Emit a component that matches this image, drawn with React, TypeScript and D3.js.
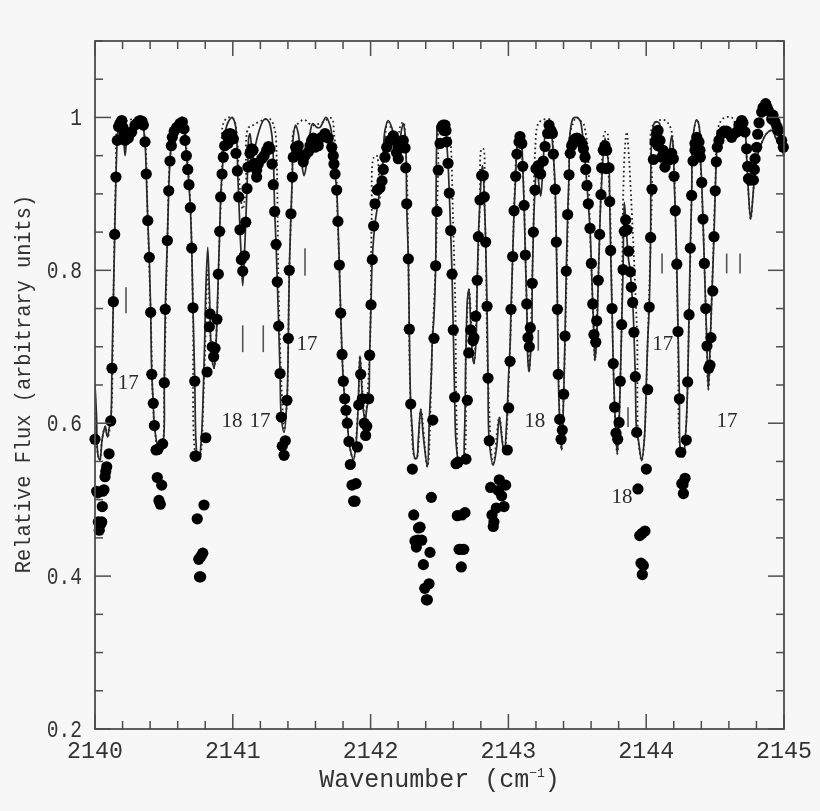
import React from "react";
import * as d3 from "d3";

const BASE = 2140;
const xLabels = [2140, 2141, 2142, 2143, 2144, 2145];
const yLabels = [0.2, 0.4, 0.6, 0.8, 1];

// Observed spectrum: [wavenumber - 2140, relative flux]
const observed: [number, number][] = [
[0,.579],[.012,.511],[.024,.471],[.031,.460],[.020,.509],[.049,.471],[.042,.468],[.053,.491],[.065,.513],[.056,.511],[.073,.530],[.078,.537],[.085,.543],[.102,.560],[.114,.603],[.123,.672],
[.133,.759],[.143,.847],[.152,.922],[.162,.970],[.181,.992],[.171,.988],[.194,.996],[.203,.987],[.230,.979],[.218,.970],[.211,.979],[.242,.973],[.254,.979],[.266,.981],[.290,.990],[.309,.993],[.327,.996],[.341,.995],[.351,.990],[.363,.968],[.372,.926],[.383,.865],[.394,.817],[.404,.745],[.412,.664],[.423,.626],[.431,.597],[.443,.565],[.457,.566],[.452,.529],[.464,.499],[.474,.494],[.484,.519],[.491,.573],[.503,.653],[.510,.749],[.525,.839],[.535,.904],[.544,.943],[.554,.963],[.561,.974],[.575,.982],[.593,.987],[.617,.992],[.634,.994],[.646,.985],[.653,.970],[.663,.950],[.673,.932],[.682,.912],[.692,.882],[.702,.829],[.711,.751],[.724,.655],[.733,.557],[.726,.557],[.742,.475],[.753,.422],[.758,.399],[.767,.399],[.782,.430],[.769,.426],[.791,.493],[.804,.581],[.813,.667],
[.830,.726],[.835,.743],[.851,.700],[.871,.698],[.861,.687],[.885,.736],[.895,.795],[.905,.851],[.912,.896],[.922,.926],[.931,.948],[.941,.963],[.956,.976],[.965,.978],[.980,.979],[.991,.978],[1.004,.972],[.965,.966],[1.023,.953],[1.033,.930],[1.043,.896],[1.052,.853],[1.062,.814],[1.072,.799],[1.084,.819],[1.094,.863],[1.103,.907],[1.110,.935],[1.125,.953],[1.137,.959],[1.147,.957],[1.154,.940],[1.173,.922],[1.173,.931],[1.185,.939],[1.210,.946],[1.227,.950],[1.246,.957],[1.259,.962],[1.270,.959],[1.285,.939],[1.294,.912],[1.304,.877],[1.314,.834],[1.323,.785],[1.333,.727],[1.343,.665],[1.352,.608],[1.359,.570],[1.372,.558],[1.381,.577],[1.393,.630],[1.403,.711],[1.410,.800],[1.422,.874],[1.432,.922],[1.439,.948],[1.456,.961],[1.475,.963],[1.465,.957],[1.500,.950],[1.511,.942],[1.524,.950],[1.548,.955],[1.560,.963],[1.572,.970],[1.584,.973],[1.596,.961],[1.620,.963],[1.645,.974],[1.669,.979],[1.693,.973],[1.718,.961],[1.729,.950],[1.734,.939],[1.742,.926],[1.754,.905],[1.763,.864],[1.773,.807],[1.783,.744],[1.793,.690],[1.802,.655],[1.812,.632],[1.821,.617],[1.831,.600],[1.843,.576],[1.853,.546],[1.865,.519],[1.894,.521],[1.877,.498],[1.887,.498],[1.904,.569],[1.914,.624],[1.928,.664],[1.940,.632],[1.954,.600],[1.972,.596],[1.964,.584],[1.986,.632],[1.993,.689],
[2.003,.755],[2.012,.814],[2.022,.858],[2.032,.887],[2.049,.905],[2.068,.908],[2.083,.917],[2.092,.932],[2.104,.948],[2.117,.961],[2.141,.970],[2.165,.976],[2.177,.970],[2.188,.954],[2.199,.962],[2.201,.946],[2.213,.961],[2.237,.970],[2.250,.960],[2.255,.934],[2.262,.887],[2.274,.815],[2.281,.723],[2.291,.625],[2.303,.540],[2.313,.480],[2.348,.463],[2.359,.464],[2.322,.446],[2.344,.447],[2.371,.447],[2.332,.438],[2.383,.415],[2.393,.384],[2.424,.390],[2.405,.369],[2.412,.369],[2.431,.431],[2.441,.503],[2.451,.604],[2.460,.711],[2.472,.806],[2.482,.877],[2.491,.931],[2.504,.966],[2.516,.987],[2.526,.990],[2.540,.990],[2.533,.983],[2.547,.983],[2.552,.968],[2.562,.940],[2.571,.901],[2.581,.852],[2.591,.795],[2.600,.722],[2.610,.634],[2.620,.547],[2.634,.549],[2.629,.479],[2.642,.435],[2.658,.412],[2.656,.435],[2.676,.435],[2.663,.480],[2.685,.483],[2.692,.553],[2.702,.630],[2.712,.692],[2.726,.722],[2.750,.712],[2.743,.708],[2.763,.740],[2.774,.787],[2.782,.844],[2.794,.892],[2.806,.924],[2.818,.924],[2.825,.896],[2.835,.837],[2.845,.753],[2.852,.659],[2.861,.577],[2.871,.516],[2.881,.480],[2.890,.465],[2.895,.471],[2.912,.489],[2.927,.512],[2.934,.526],[2.951,.505],[2.968,.491],[2.980,.519],[2.992,.565],
[3.002,.620],[3.012,.681],[3.019,.749],[3.031,.818],[3.041,.878],[3.053,.923],[3.062,.952],[3.077,.968],[3.084,.975],[3.097,.966],[3.104,.936],[3.114,.885],[3.123,.820],[3.133,.756],[3.142,.712],[3.152,.700],[3.159,.725],[3.173,.783],[3.181,.850],[3.193,.905],[3.200,.933],[3.217,.937],[3.222,.928],[3.234,.926],[3.253,.943],[3.266,.962],[3.285,.979],[3.295,.990],[3.309,.983],[3.319,.979],[3.326,.952],[3.340,.906],[3.348,.837],[3.356,.749],[3.362,.664],[3.372,.605],[3.382,.579],[3.391,.591],[3.401,.638],[3.411,.714],[3.420,.799],[3.430,.873],[3.440,.925],[3.449,.953],[3.459,.963],[3.469,.967],[3.483,.972],[3.498,.973],[3.520,.970],[3.534,.966],[3.544,.959],[3.556,.948],[3.561,.932],[3.570,.911],[3.580,.887],[3.592,.855],[3.602,.809],[3.612,.756],[3.621,.716],[3.634,.706],[3.641,.734],[3.652,.787],[3.662,.847],[3.672,.899],[3.677,.934],[3.689,.957],[3.701,.963],[3.713,.957],[3.708,.933],[3.730,.934],[3.735,.890],[3.742,.826],[3.752,.750],[3.761,.678],[3.771,.621],[3.781,.587],[3.793,.579],[3.803,.601],[3.812,.655],[3.822,.729],[3.832,.801],[3.841,.851],[3.851,.866],[3.861,.853],[3.873,.825],[3.885,.798],[3.892,.778],[3.902,.758],[3.911,.719],[3.921,.661],[3.931,.588],[3.940,.514],[3.953,.453],[3.971,.456],[3.991,.459],[3.962,.417],[3.979,.414],[3.972,.402],
[4.001,.540],[4.011,.644],[4.022,.752],[4.032,.843],[4.042,.906],[4.052,.945],[4.064,.968],[4.076,.979],[4.086,.983],[4.086,.963],[4.100,.970],[4.113,.948],[4.122,.957],[4.136,.935],[4.151,.944],[4.161,.944],[4.173,.946],[4.185,.953],[4.197,.946],[4.202,.923],[4.211,.878],[4.222,.808],[4.231,.720],[4.241,.632],[4.251,.562],[4.258,.521],[4.270,.508],[4.267,.520],[4.282,.528],[4.291,.578],[4.301,.654],[4.311,.742],[4.320,.829],[4.330,.898],[4.340,.943],[4.354,.966],[4.354,.957],[4.367,.974],[4.376,.966],[4.383,.968],[4.390,.957],[4.393,.948],[4.403,.915],[4.412,.867],[4.422,.809],[4.432,.750],[4.441,.701],[4.454,.672],[4.463,.676],[4.470,.712],[4.483,.773],[4.492,.844],[4.501,.904],[4.509,.942],[4.516,.961],[4.528,.970],[4.548,.979],[4.565,.982],[4.584,.982],[4.601,.979],[4.620,.974],[4.633,.978],[4.657,.981],[4.673,.990],[4.693,.996],[4.702,.993],[4.717,.981],[4.729,.959],[4.736,.936],[4.742,.920],[4.753,.918],[4.778,.918],[4.785,.932],[4.790,.946],[4.802,.961],[4.809,.978],[4.819,.993],[4.838,1.007],[4.848,1.013],[4.867,1.018],[4.877,1.013],[4.886,1.009],[4.911,.998],[4.920,1.003],[4.935,.994],[4.949,.988],[4.959,.983],[4.983,.970],[4.995,.961],
];

// Solid model curve
const modelSolid: [number, number][] = [
[0,.650],[.011,.610],[.022,.558],[.036,.552],[.051,.578],[.065,.591],[.075,.596],[.083,.587],[.092,.582],[.102,.593],[.114,.603],[.123,.672],[.133,.759],[.143,.847],[.152,.922],[.162,.970],[.174,.990],[.189,.995],[.203,.985],[.218,.950],[.232,.975],[.247,.985],[.261,.985],[.290,.990],[.312,.998],[.327,1],[.341,.998],[.352,.985],[.363,.968],[.372,.926],[.383,.865],[.394,.817],[.404,.745],[.412,.664],[.423,.626],[.431,.597],[.464,.566],[.491,.573],[.503,.653],[.510,.749],[.525,.839],[.535,.904],[.544,.943],[.554,.963],[.575,.982],[.600,.990],[.620,.996],[.634,1],[.650,.985],[.663,.950],[.673,.932],[.682,.912],[.692,.882],[.702,.829],[.711,.751],[.724,.655],[.733,.575],[.745,.555],[.755,.555],[.771,.578],[.793,.687],[.804,.774],[.818,.830],[.830,.774],[.847,.687],[.864,.672],[.876,.695],[.885,.736],[.895,.795],[.905,.851],[.912,.896],[.922,.926],[.931,.948],[.943,.979],[.967,.994],[.996,1],[1.016,.992],[1.028,.974],[1.036,.925],[1.043,.896],[1.052,.853],[1.062,.814],[1.072,.780],[1.084,.819],[1.094,.863],[1.103,.907],[1.110,.945],[1.116,.974],[1.125,.979],[1.144,.950],[1.161,.961],[1.185,.979],[1.221,.996],[1.241,.998],[1.263,.994],[1.282,.979],[1.294,.948],[1.304,.877],[1.314,.834],[1.323,.785],[1.333,.727],[1.343,.665],[1.352,.608],[1.372,.588],[1.393,.630],[1.403,.711],[1.410,.800],[1.422,.874],[1.432,.925],[1.439,.975],[1.456,.990],[1.475,.979],[1.500,.940],[1.517,.924],[1.536,.940],[1.560,.979],[1.580,.992],[1.609,.987],[1.633,.987],[1.676,1],[1.705,.990],[1.722,.970],[1.734,.939],[1.754,.905],[1.763,.864],[1.773,.807],[1.783,.744],[1.793,.690],[1.802,.655],[1.812,.632],[1.821,.617],[1.831,.600],[1.843,.576],[1.853,.565],[1.875,.552],[1.893,.570],[1.910,.624],[1.923,.688],[1.943,.626],[1.959,.604],[1.974,.621],[1.986,.632],[1.993,.689],[2.003,.755],[2.012,.814],[2.032,.861],[2.056,.891],[2.087,.935],[2.104,.983],[2.128,.996],[2.153,.987],[2.177,.966],[2.201,.944],[2.220,.979],[2.237,.992],[2.250,.979],[2.257,.953],[2.262,.887],[2.274,.815],[2.281,.723],[2.291,.625],[2.303,.590],[2.322,.554],[2.334,.554],[2.346,.578],[2.364,.618],[2.383,.582],[2.412,.543],[2.426,.604],[2.441,.665],[2.448,.708],[2.460,.740],[2.472,.806],[2.480,.966],[2.491,.992],[2.516,.994],[2.540,.992],[2.552,.968],[2.562,.940],[2.571,.901],[2.581,.852],[2.591,.795],[2.600,.722],[2.610,.634],[2.620,.575],[2.643,.549],[2.668,.548],[2.680,.578],[2.692,.695],[2.704,.765],[2.714,.775],[2.726,.731],[2.740,.687],[2.750,.678],[2.765,.708],[2.774,.787],[2.782,.844],[2.794,.892],[2.806,.930],[2.813,.937],[2.825,.896],[2.835,.837],[2.845,.753],[2.852,.659],[2.861,.577],[2.890,.545],[2.915,.569],[2.934,.608],[2.954,.578],[2.970,.560],[2.987,.600],[3.002,.665],[3.012,.700],[3.019,.749],[3.031,.818],[3.041,.878],[3.053,.923],[3.062,.960],[3.084,.981],[3.097,.966],[3.104,.936],[3.114,.885],[3.123,.820],[3.133,.756],[3.142,.680],[3.150,.667],[3.161,.691],[3.169,.708],[3.173,.783],[3.181,.850],[3.193,.905],[3.205,.935],[3.234,.897],[3.248,.927],[3.266,.979],[3.278,.992],[3.302,.996],[3.314,.979],[3.326,.952],[3.340,.906],[3.348,.837],[3.356,.749],[3.362,.664],[3.372,.605],[3.386,.565],[3.401,.638],[3.411,.714],[3.420,.799],[3.430,.873],[3.440,.925],[3.447,.979],[3.471,.999],[3.495,1],[3.520,.996],[3.537,.979],[3.551,.957],[3.561,.932],[3.570,.911],[3.580,.887],[3.592,.855],[3.602,.809],[3.612,.756],[3.621,.716],[3.628,.682],[3.640,.708],[3.652,.787],[3.662,.847],[3.672,.899],[3.701,.973],[3.713,.957],[3.730,.934],[3.735,.890],[3.742,.826],[3.752,.750],[3.761,.678],[3.771,.621],[3.781,.587],[3.790,.560],[3.803,.601],[3.812,.655],[3.822,.729],[3.832,.801],[3.841,.889],[3.853,.861],[3.870,.817],[3.885,.798],[3.892,.778],[3.902,.758],[3.911,.719],[3.921,.661],[3.931,.588],[3.943,.578],[3.967,.551],[3.986,.578],[4.003,.665],[4.011,.708],[4.022,.752],[4.032,.843],[4.042,.975],[4.064,.994],[4.093,.993],[4.113,.970],[4.136,.944],[4.161,.950],[4.185,.976],[4.197,.959],[4.202,.923],[4.211,.878],[4.222,.808],[4.231,.720],[4.241,.632],[4.251,.562],[4.270,.556],[4.282,.578],[4.291,.600],[4.301,.654],[4.311,.742],[4.320,.829],[4.330,.898],[4.340,.975],[4.367,.997],[4.383,.990],[4.393,.948],[4.403,.915],[4.412,.867],[4.422,.809],[4.432,.750],[4.441,.701],[4.451,.644],[4.465,.708],[4.477,.770],[4.492,.844],[4.501,.904],[4.509,.942],[4.520,.970],[4.557,.983],[4.608,.979],[4.657,.990],[4.693,.999],[4.717,.983],[4.729,.948],[4.741,.905],[4.758,.867],[4.778,.905],[4.795,.940],[4.826,.961],[4.874,.979],[4.911,.983],[4.948,.970],[4.983,.959],[5,.950],
];

// Dotted model curve
const modelDotted: [number, number][] = [
[0,.650],[.022,.558],[.036,.552],[.051,.578],[.075,.596],[.092,.582],[.114,.603],[.133,.759],[.152,.922],[.174,.990],[.242,.996],[.327,1],[.360,.975],[.383,.865],[.404,.745],[.431,.597],[.464,.560],[.491,.573],[.503,.653],[.525,.839],[.544,.945],[.575,.982],[.634,1],[.663,.960],[.692,.885],[.711,.751],[.733,.557],[.755,.552],[.793,.665],[.818,.800],[.847,.687],[.864,.672],[.885,.736],[.905,.851],[.922,.930],[.931,.992],[.967,1],[1.004,.998],[1.028,.981],[1.040,.940],[1.052,.905],[1.072,.880],[1.094,.905],[1.112,.986],[1.149,.990],[1.210,.996],[1.270,.998],[1.306,.983],[1.318,.948],[1.326,.861],[1.330,.796],[1.343,.700],[1.355,.643],[1.372,.591],[1.393,.630],[1.410,.800],[1.432,.922],[1.439,.981],[1.463,.990],[1.517,.997],[1.572,.990],[1.633,.992],[1.717,.999],[1.734,.979],[1.749,.953],[1.758,.882],[1.773,.807],[1.793,.690],[1.821,.617],[1.853,.565],[1.875,.552],[1.910,.624],[1.923,.688],[1.959,.604],[1.993,.689],[2.001,.757],[2.008,.869],[2.024,.948],[2.044,.950],[2.068,.895],[2.090,.948],[2.128,.996],[2.192,.948],[2.213,.987],[2.237,.994],[2.257,.953],[2.274,.815],[2.291,.625],[2.322,.554],[2.334,.554],[2.364,.618],[2.412,.543],[2.448,.708],[2.472,.806],[2.482,.877],[2.491,.935],[2.504,.992],[2.540,.993],[2.564,.987],[2.583,.961],[2.593,.905],[2.600,.852],[2.607,.809],[2.615,.752],[2.625,.600],[2.643,.549],[2.668,.548],[2.692,.695],[2.714,.775],[2.750,.678],[2.774,.787],[2.794,.892],[2.806,.959],[2.818,.959],[2.825,.896],[2.835,.837],[2.852,.659],[2.890,.545],[2.934,.608],[2.970,.560],[3.012,.700],[3.041,.878],[3.062,.960],[3.084,.981],[3.104,.936],[3.133,.756],[3.150,.667],[3.181,.850],[3.193,.953],[3.217,.992],[3.253,.997],[3.302,.997],[3.326,.952],[3.348,.837],[3.372,.605],[3.386,.565],[3.401,.638],[3.440,.925],[3.447,.979],[3.495,1],[3.520,.996],[3.544,.992],[3.561,.979],[3.575,.961],[3.592,.855],[3.612,.756],[3.628,.682],[3.652,.787],[3.672,.899],[3.701,.981],[3.715,.981],[3.725,.935],[3.738,.882],[3.752,.750],[3.771,.621],[3.790,.560],[3.812,.655],[3.822,.729],[3.834,.905],[3.846,.961],[3.858,.981],[3.875,.948],[3.889,.900],[3.902,.852],[3.913,.809],[3.926,.752],[3.935,.708],[3.943,.578],[3.967,.551],[3.986,.578],[4.011,.708],[4.042,.906],[4.050,.990],[4.124,.997],[4.161,.992],[4.185,.981],[4.197,.959],[4.211,.878],[4.231,.720],[4.251,.562],[4.270,.556],[4.291,.600],[4.311,.742],[4.330,.898],[4.340,.975],[4.367,.997],[4.383,.990],[4.393,.948],[4.412,.867],[4.432,.750],[4.451,.644],[4.477,.770],[4.501,.904],[4.523,.987],[4.560,.999],[4.620,1],[4.657,.990],[4.693,.999],[4.717,.983],[4.729,.948],[4.741,.905],[4.758,.867],[4.778,.905],[4.795,.940],[4.826,.961],[4.874,.979],[4.911,.983],[4.948,.970],[4.983,.959],[5,.950],
];

// Line identification bars: [wavenumber - 2140, low, high]
const idBars: [number, number, number][] = [
[.225,.744,.778],[1.072,.693,.728],[1.221,.693,.728],[1.524,.793,.829],[3.217,.695,.722],[3.868,.595,.621],[4.115,.796,.822],[4.584,.796,.822],[4.681,.796,.822],
];

// Isotope labels: [text, wavenumber - 2140, flux]
const isoLabels: [string, number, number][] = [
["17",.241,.655],["18",.994,.605],["17",1.197,.605],["17",1.538,.705],["18",3.192,.605],["18",3.824,.505],["17",4.121,.705],["17",4.587,.605],
];

const W = 820, H = 811;
const INK = "#4d4d4d";
const TEXT = "#333";
const MONO = "'Liberation Mono', monospace";
const x = d3.scaleLinear().domain([BASE, BASE + 5]).range([95, 784]);
const y = d3.scaleLinear().domain([0.2, 1.1]).range([729, 41]);
const gen = d3.line<[number, number]>().x(d => x(BASE + d[0])).y(d => y(d[1])).curve(d3.curveCatmullRom.alpha(0.5));

export default function App() {
  const minorX = d3.range(0, 26).map(i => BASE + i * 0.2);
  const minorY = d3.range(0, 19).map(i => 0.2 + i * 0.05);
  return (
    <svg width={W} height={H} style={{ position: "absolute", left: 0, top: 0, background: "#f7f7f7", filter: "blur(0.45px)" }}>
      <defs>
        <clipPath id="plot"><rect x={95} y={41} width={689} height={688} /></clipPath>
      </defs>
      <g clipPath="url(#plot)" fill="none">
        <path d={gen(modelDotted) ?? ""} stroke="#222" strokeWidth={1.8} strokeDasharray="1.7 3" />
        <path d={gen(modelSolid) ?? ""} stroke="#2a2a2a" strokeWidth={1.7} />
      </g>
      <g fill="#000">
        {observed.map((d, i) => <circle key={i} cx={x(BASE + d[0])} cy={y(d[1])} r={5.6} />)}
      </g>
      <g stroke="#555" strokeWidth={1.6}>
        {idBars.map((b, i) => <line key={i} x1={x(BASE + b[0])} x2={x(BASE + b[0])} y1={y(b[1])} y2={y(b[2])} />)}
      </g>
      <g fontFamily="'Liberation Serif', serif" fontSize={21} fill="#2a2a2a" textAnchor="middle">
        {isoLabels.map((l, i) => <text key={i} x={x(BASE + l[1])} y={y(l[2])} dy="0.35em">{l[0]}</text>)}
      </g>
      <rect x={95} y={41} width={689} height={688} fill="none" stroke={INK} strokeWidth={1.8} />
      <g stroke={INK} strokeWidth={1.5}>
        {minorX.map((v, i) => {
          const len = i % 5 === 0 ? 15 : 8;
          return (
            <g key={i}>
              <line x1={x(v)} x2={x(v)} y1={729} y2={729 - len} />
              <line x1={x(v)} x2={x(v)} y1={41} y2={41 + len} />
            </g>
          );
        })}
        {minorY.map((v, i) => {
          const len = i % 4 === 0 ? 16 : 8;
          return (
            <g key={i}>
              <line x1={95} x2={95 + len} y1={y(v)} y2={y(v)} />
              <line x1={784} x2={784 - len} y1={y(v)} y2={y(v)} />
            </g>
          );
        })}
      </g>
      <g fontFamily={MONO} fill={TEXT}>
        {xLabels.map(v => (
          <text key={v} fontSize={24} textAnchor="middle" transform={`translate(${x(v)},758) scale(0.97,1)`}>{v}</text>
        ))}
        {yLabels.map(v => (
          <text key={v} fontSize={23} textAnchor="end" transform={`translate(82,${y(v) + 8}) scale(0.85,1)`}>{v}</text>
        ))}
        <text fontSize={25} textAnchor="middle" x={439.5} y={787}>
          Wavenumber (cm<tspan fontSize={13} dy={-10}>−1</tspan><tspan dy={10}>)</tspan>
        </text>
        <text fontSize={23} textAnchor="middle" transform="translate(30,384) rotate(-90) scale(0.885,1)">
          Relative Flux (arbitrary units)
        </text>
      </g>
    </svg>
  );
}
